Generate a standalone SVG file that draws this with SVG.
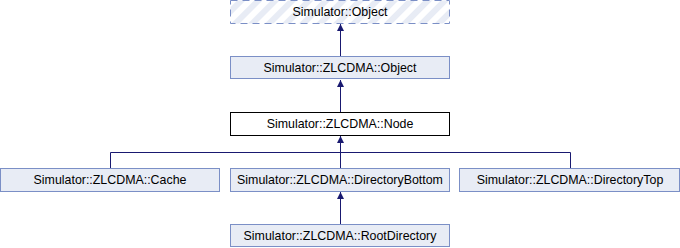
<svg xmlns="http://www.w3.org/2000/svg" width="680" height="248" viewBox="0 0 680 248">
  <style>
    .box { fill: #e8ecf5; stroke: #7b8fc6; stroke-width: 1; }
    .cur { fill: #ffffff; stroke: #000000; stroke-width: 1; }
    .ext { fill: url(#hatch); stroke: #7b8fc6; stroke-width: 1; stroke-dasharray: 7 5; }
    .lbl { font-family: "Liberation Sans", Arial, sans-serif; font-size: 12.4px; fill: #000000; text-anchor: middle; }
    .edge { fill: none; stroke: #191970; stroke-width: 1; marker-end: url(#arrow); }
    .plain { fill: none; stroke: #191970; stroke-width: 1; }
  </style>
  <defs>
    <pattern id="hatch" width="12" height="12" patternUnits="userSpaceOnUse" patternTransform="rotate(45)">
      <rect width="12" height="12" fill="#ffffff"/>
      <rect width="6" height="12" fill="#e8ecf5"/>
    </pattern>
    <marker id="arrow" viewBox="0 0 10 10" refX="10" refY="5" markerWidth="7" markerHeight="7" markerUnits="userSpaceOnUse" orient="auto">
      <path d="M0,0 L10,5 L0,10 Z" fill="#191970"/>
    </marker>
  </defs>

  <g id="connectors">
    <path class="edge" d="M340.5,56 L340.5,24"/>
    <path class="edge" d="M340.5,112 L340.5,80"/>
    <path class="plain" d="M110.5,168 L110.5,152.5 L570.5,152.5 L570.5,168"/>
    <path class="edge" d="M340.5,168 L340.5,136"/>
    <path class="edge" d="M340.5,224 L340.5,192"/>
  </g>

  <g id="simulator-object">
    <rect class="ext" x="230.5" y="0.5" width="219" height="23"/>
    <text class="lbl" x="340" y="16">Simulator::Object</text>
  </g>
  <g id="zlcdma-object">
    <rect class="box" x="230.5" y="56.5" width="219" height="22"/>
    <text class="lbl" x="340" y="71.5">Simulator::ZLCDMA::Object</text>
  </g>
  <g id="zlcdma-node">
    <rect class="cur" x="230.5" y="112.5" width="219" height="23"/>
    <text class="lbl" x="340" y="128">Simulator::ZLCDMA::Node</text>
  </g>
  <g id="zlcdma-cache">
    <rect class="box" x="0.5" y="168.5" width="219" height="23"/>
    <text class="lbl" x="110" y="184">Simulator::ZLCDMA::Cache</text>
  </g>
  <g id="zlcdma-directorybottom">
    <rect class="box" x="230.5" y="168.5" width="219" height="23"/>
    <text class="lbl" x="340" y="184">Simulator::ZLCDMA::DirectoryBottom</text>
  </g>
  <g id="zlcdma-directorytop">
    <rect class="box" x="459.5" y="168.5" width="220" height="23"/>
    <text class="lbl" x="570" y="184">Simulator::ZLCDMA::DirectoryTop</text>
  </g>
  <g id="zlcdma-rootdirectory">
    <rect class="box" x="230.5" y="224.5" width="219" height="22"/>
    <text class="lbl" x="340" y="240">Simulator::ZLCDMA::RootDirectory</text>
  </g>
</svg>
